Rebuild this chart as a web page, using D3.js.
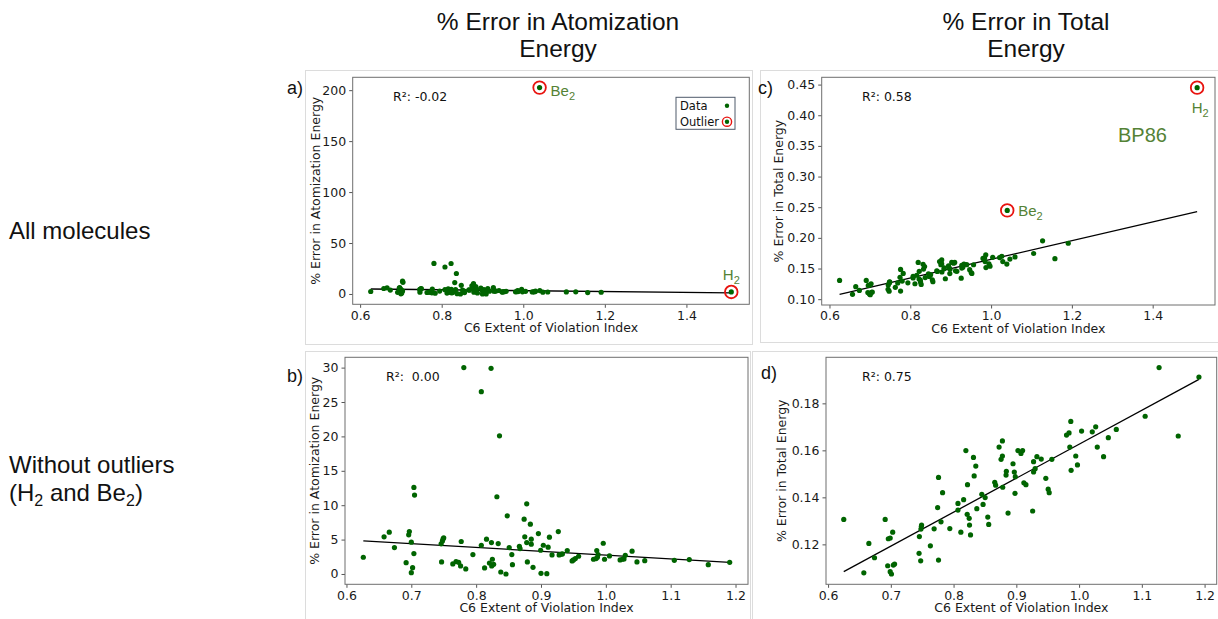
<!DOCTYPE html>
<html>
<head>
<meta charset="utf-8">
<script src="https://cdn.jsdelivr.net/npm/d3@7"></script>
<style>
  body { margin: 0; background: #fff; }
  svg text { font-family: "DejaVu Sans", sans-serif; }
  svg text.ppt { font-family: "Liberation Sans", Arial, sans-serif; }
</style>
</head>
<body>
<svg id="fig" width="1218" height="619"></svg>
<script>
// Atomization energy error vs C6 violation index (no outliers)
const atomX = [0.626, 0.658, 0.666, 0.674, 0.692, 0.696, 0.697, 0.700, 0.700, 0.702, 0.704, 0.704, 0.705,
  0.746, 0.7467, 0.748, 0.749, 0.750, 0.764, 0.769, 0.773, 0.776, 0.777, 0.781, 0.784, 0.795,
  0.808, 0.808, 0.813, 0.816, 0.8205, 0.823, 0.8236, 0.824, 0.825, 0.827, 0.832, 0.834, 0.836, 0.838,
  0.846, 0.848, 0.851, 0.855, 0.856, 0.8667, 0.8677, 0.874, 0.875, 0.878, 0.878, 0.879, 0.8836, 0.885, 0.885, 0.8877,
  0.896, 0.8995, 0.900, 0.9036, 0.909, 0.911, 0.913, 0.917, 0.9267, 0.928, 0.931, 0.933, 0.9405,
  0.948, 0.950, 0.953, 0.958, 0.981, 0.985, 0.986, 0.987, 0.988, 0.996, 0.998, 1.0056,
  1.022, 1.0256, 1.028, 1.030, 1.0405, 1.048, 1.060, 1.1056, 1.1287, 1.158, 1.191];
const atomErr = [2.43, 5.40, 6.08, 3.84, 1.65, 5.69, 6.17, 4.62, 0.19, 0.92, 2.97, 12.59, 11.47,
  4.38, 1.75, 4.81, 5.10, 5.25, 1.46, 1.80, 1.70, 1.17, 4.72, 30.0, 0.73, 2.82,
  4.18, 26.5, 0.88, 5.06, 1.60, 29.9, 4.57, 1.17, 2.14, 1.41, 11.23, 4.42, 20.08, 0.29,
  0.0, 8.46, 3.84, 2.82, 1.36, 4.03, 3.69, 7.97, 5.40, 10.2, 4.57, 1.75, 7.24, 5.06, 4.33, 0.97,
  5.88, 3.45, 0.10, 4.18, 0.05, 3.89, 5.35, 2.77, 6.17, 2.77, 2.87, 2.92, 3.40,
  1.90, 2.04, 2.24, 2.58, 2.14, 2.24, 3.40, 2.43, 2.82, 4.47, 2.14, 2.63,
  2.04, 2.14, 2.19, 2.72, 3.31, 1.75, 1.94, 1.99, 2.09, 1.36, 1.70];

// Total energy error vs C6 violation index (no outliers)
const totalX = [0.625, 0.657, 0.665, 0.674, 0.691, 0.695, 0.696, 0.699, 0.699, 0.701, 0.703, 0.704, 0.706,
  0.745, 0.7455, 0.7476, 0.748, 0.7487, 0.749, 0.763, 0.769, 0.7746, 0.776, 0.776, 0.780, 0.7825, 0.794,
  0.807, 0.807, 0.8116, 0.816, 0.8196, 0.8217, 0.8222, 0.8249, 0.8254, 0.827, 0.8317, 0.8328, 0.8354, 0.837,
  0.845, 0.847, 0.8503, 0.8545, 0.856, 0.8656, 0.867, 0.8725, 0.8757, 0.8778, 0.8778, 0.8783, 0.8836, 0.8841, 0.8868,
  0.8947, 0.8968, 0.8979, 0.8984, 0.9026, 0.9074, 0.910, 0.912, 0.9153, 0.926, 0.9275, 0.9275, 0.930, 0.9328, 0.9397,
  0.947, 0.9508, 0.9524, 0.9566, 0.980, 0.984, 0.9868, 0.9852, 0.9873, 0.9947, 0.9974, 1.004,
  1.021, 1.0265, 1.029, 1.039, 1.0466, 1.0593, 1.1053, 1.1275, 1.158, 1.191];
const totalErr = [0.1306, 0.1079, 0.1204, 0.1143, 0.1306, 0.1109, 0.1224, 0.1227, 0.1084, 0.1074, 0.1252, 0.1112, 0.1116,
  0.1162, 0.1233, 0.1130, 0.1265, 0.1277, 0.1282, 0.1194, 0.1266, 0.1356, 0.1485, 0.1133, 0.1296, 0.1420, 0.1267,
  0.1346, 0.1374, 0.1252, 0.1390, 0.1599, 0.1328, 0.1454, 0.1311, 0.1282, 0.1240, 0.1570, 0.1491, 0.1533, 0.1352,
  0.1413, 0.1370, 0.1399, 0.1316, 0.1285, 0.1464, 0.1452, 0.1614, 0.1562, 0.1640, 0.1576, 0.1443, 0.1495, 0.1511, 0.1333,
  0.1543, 0.1508, 0.1417, 0.1488, 0.1599, 0.1587, 0.1599, 0.1462, 0.1454, 0.1342, 0.1552, 0.1508, 0.1522, 0.1573, 0.1563,
  0.1481, 0.1435, 0.1420, 0.1562, 0.1665, 0.1674, 0.1723, 0.1614, 0.1515, 0.1576, 0.1538, 0.1682,
  0.1679, 0.1700, 0.1614, 0.1573, 0.1654, 0.1689, 0.1745, 0.1952, 0.1661, 0.1912];

// Outliers
const outlierNames = ["H", "Be"];          // both shown with subscript 2
const outlierX = [1.51, 1.04];
const outlierAtomErr = [2.0, 202.5];
const outlierTotalErr = [0.445, 0.2448];

// Linear fits [intercept, slope]
const fitAtomAll = [7.66, -4.41];
const fitAtomClean = [8.25, -5.5];
const fitTotalAll = [0.0121, 0.1529];
const fitTotalClean = [0.0181, 0.1445];

// Ticks
const xTicksAll = [0.6, 0.8, 1.0, 1.2, 1.4];
const xTicksClean = [0.6, 0.7, 0.8, 0.9, 1.0, 1.1, 1.2];
const yTicksA = [0, 50, 100, 150, 200];
const yTicksB = [0, 5, 10, 15, 20, 25, 30];
const yTicksC = [0.10, 0.15, 0.20, 0.25, 0.30, 0.35, 0.40, 0.45];
const yTicksD = [0.12, 0.14, 0.16, 0.18];

const r2Labels = ["R²: -0.02", "R²:  0.00", "R²: 0.58", "R²: 0.75"];

const svg = d3.select("#fig");
const GREEN = "#006400";
const OLIVE = "#548235";

// Column titles and row labels
const titles = [
  { lines: ["% Error in Atomization", "Energy"], x: 558 },
  { lines: ["% Error in Total", "Energy"], x: 1026 }
];
titles.forEach(t => {
  t.lines.forEach((s, i) => {
    svg.append("text").attr("class", "ppt")
      .attr("x", t.x).attr("y", 30 + i * 26.5)
      .attr("text-anchor", "middle").attr("font-size", 24.5).attr("fill", "#111")
      .text(s);
  });
});

svg.append("text").attr("class", "ppt").attr("x", 9).attr("y", 239)
  .attr("font-size", 24).attr("fill", "#111").text("All molecules");
svg.append("text").attr("class", "ppt").attr("x", 9).attr("y", 473)
  .attr("font-size", 24).attr("fill", "#111").text("Without outliers");
const sub = svg.append("text").attr("class", "ppt").attr("x", 9).attr("y", 501)
  .attr("font-size", 24).attr("fill", "#111");
sub.append("tspan").text("(H");
sub.append("tspan").attr("dy", 5).attr("font-size", 16).text("2");
sub.append("tspan").attr("dy", -5).text(" and Be");
sub.append("tspan").attr("dy", 5).attr("font-size", 16).text("2");
sub.append("tspan").attr("dy", -5).text(")");

// helper: text with subscript 2
function subLabel(g, name, x, y, anchor) {
  const t = g.append("text").attr("class", "ppt")
    .attr("x", x).attr("y", y).attr("font-size", 15)
    .attr("fill", OLIVE).attr("text-anchor", anchor);
  t.append("tspan").text(name);
  t.append("tspan").attr("dy", 4).attr("font-size", 11).text("2");
  return t;
}

function pad(ext) {
  const m = (ext[1] - ext[0]) * 0.05;
  return [ext[0] - m, ext[1] + m];
}

const panels = [
  { tag: "a)", tagPos: [287, 94], box: [305, 70, 752, 344], frame: [352.7, 77.3, 749.3, 304.3],
    xs: atomX, ys: atomErr, oy: outlierAtomErr, fit: fitAtomAll,
    xTicks: xTicksAll, xFmt: ".1f", yTicks: yTicksA, yFmt: "d",
    yLabel: "% Error in Atomization Energy", yLabOff: 33, r2: r2Labels[0], r2Pos: [393, 101],
    outLabel: [{ dx: 0, dy: -12, anchor: "middle" }, { dx: 11, dy: 8, anchor: "start" }], legend: true },
  { tag: "b)", tagPos: [287, 382], box: [305, 351, 750, 630], frame: [345, 357.3, 748, 584.3],
    xs: atomX, ys: atomErr, oy: null, fit: fitAtomClean,
    xTicks: xTicksClean, xFmt: ".1f", yTicks: yTicksB, yFmt: "d",
    yLabel: "% Error in Atomization Energy", yLabOff: 26, r2: r2Labels[1], r2Pos: [386, 381] },
  { tag: "c)", tagPos: [758, 94], box: [760, 70, 1230, 342], frame: [821.7, 77.3, 1215, 305],
    xs: totalX, ys: totalErr, oy: outlierTotalErr, fit: fitTotalAll,
    xTicks: xTicksAll, xFmt: ".1f", yTicks: yTicksC, yFmt: ".2f",
    yLabel: "% Error in Total Energy", yLabOff: 39, r2: r2Labels[2], r2Pos: [862, 101],
    outLabel: [{ dx: 3, dy: 25, anchor: "middle" }, { dx: 11, dy: 6, anchor: "start" }], bp86: true },
  { tag: "d)", tagPos: [761, 379], box: [752, 351, 1230, 630], frame: [826, 357.3, 1216.7, 584.3],
    xs: totalX, ys: totalErr, oy: null, fit: fitTotalClean,
    xTicks: xTicksClean, xFmt: ".1f", yTicks: yTicksD, yFmt: ".2f",
    yLabel: "% Error in Total Energy", yLabOff: 40, r2: r2Labels[3], r2Pos: [862, 381] }
];

panels.forEach(p => {
  const g = svg.append("g");
  const [bx0, by0, bx1, by1] = p.box;
  g.append("rect").attr("x", bx0 + 0.5).attr("y", by0 + 0.5)
    .attr("width", bx1 - bx0).attr("height", by1 - by0)
    .attr("fill", "none").attr("stroke", "#dcdcdc");

  const [fx0, fy0, fx1, fy1] = p.frame;
  const allX = p.oy ? p.xs.concat(outlierX) : p.xs;
  const allY = p.oy ? p.ys.concat(p.oy) : p.ys;

  const x = d3.scaleLinear().domain(pad(d3.extent(allX))).range([fx0, fx1]);
  const y = d3.scaleLinear().domain(pad(d3.extent(allY))).range([fy1, fy0]);

  // axes
  const xAxis = d3.axisBottom(x).tickValues(p.xTicks).tickFormat(d3.format(p.xFmt))
    .tickSizeInner(3.5).tickSizeOuter(0).tickPadding(3);
  const yAxis = d3.axisLeft(y).tickValues(p.yTicks).tickFormat(d3.format(p.yFmt))
    .tickSizeInner(3.5).tickSizeOuter(0).tickPadding(3);
  [g.append("g").attr("transform", `translate(0,${fy1})`).call(xAxis),
   g.append("g").attr("transform", `translate(${fx0},0)`).call(yAxis)].forEach(ax => {
    ax.select(".domain").remove();
    ax.selectAll(".tick line").attr("stroke", "#555");
    ax.selectAll(".tick text").attr("font-size", 12.5).attr("fill", "#1a1a1a")
      .attr("font-family", "DejaVu Sans");
  });

  g.append("rect").attr("x", fx0).attr("y", fy0)
    .attr("width", fx1 - fx0).attr("height", fy1 - fy0)
    .attr("fill", "none").attr("stroke", "#6e6e6e").attr("stroke-width", 1);

  // axis labels
  g.append("text").attr("x", (fx0 + fx1) / 2).attr("y", fy1 + 27.5)
    .attr("text-anchor", "middle").attr("font-size", 12.5).attr("fill", "#1a1a1a")
    .text("C6 Extent of Violation Index");
  g.append("text")
    .attr("transform", `translate(${fx0 - p.yLabOff},${(fy0 + fy1) / 2}) rotate(-90)`)
    .attr("text-anchor", "middle").attr("font-size", 12.5).attr("fill", "#1a1a1a")
    .text(p.yLabel);

  // fit line across data range
  const xr = d3.extent(allX);
  g.append("path")
    .datum(xr.map(v => [v, p.fit[0] + p.fit[1] * v]))
    .attr("d", d3.line().x(d => x(d[0])).y(d => y(d[1])))
    .attr("fill", "none").attr("stroke", "#000").attr("stroke-width", 1.3);

  // points
  g.append("g").selectAll("circle")
    .data(d3.zip(allX, allY))
    .join("circle")
    .attr("cx", d => x(d[0])).attr("cy", d => y(d[1]))
    .attr("r", 2.6).attr("fill", GREEN);

  // outlier rings and labels
  if (p.oy) {
    outlierX.forEach((ox, i) => {
      const cx = x(ox), cy = y(p.oy[i]);
      g.append("circle").attr("cx", cx).attr("cy", cy).attr("r", 6.3)
        .attr("fill", "none").attr("stroke", "#e8130f").attr("stroke-width", 1.8);
      const l = p.outLabel[i];
      subLabel(g, outlierNames[i], cx + l.dx, cy + l.dy, l.anchor);
    });
  }

  // R² annotation
  g.append("text").attr("x", p.r2Pos[0]).attr("y", p.r2Pos[1])
    .attr("font-size", 12.5).attr("fill", "#111")
    .style("white-space", "pre").attr("xml:space", "preserve")
    .text(p.r2);

  // panel tag
  g.append("text").attr("class", "ppt").attr("x", p.tagPos[0]).attr("y", p.tagPos[1])
    .attr("font-size", 18).attr("fill", "#111").text(p.tag);

  if (p.legend) {
    const lg = g.append("g");
    lg.append("rect").attr("x", 676).attr("y", 97.3).attr("width", 59).attr("height", 32)
      .attr("fill", "#fff").attr("stroke", "#4f5b6b").attr("stroke-width", 1);
    lg.append("text").attr("x", 680).attr("y", 109.7).attr("font-size", 11.5).attr("fill", "#111").text("Data");
    lg.append("text").attr("x", 680).attr("y", 125.7).attr("font-size", 11.5).attr("fill", "#111").text("Outlier");
    lg.append("circle").attr("cx", 727).attr("cy", 105.7).attr("r", 2.2).attr("fill", GREEN);
    lg.append("circle").attr("cx", 727).attr("cy", 121.7).attr("r", 2.2).attr("fill", GREEN);
    lg.append("circle").attr("cx", 727).attr("cy", 121.7).attr("r", 4.6)
      .attr("fill", "none").attr("stroke", "#e8130f").attr("stroke-width", 1.4);
  }

  if (p.bp86) {
    g.append("text").attr("class", "ppt").attr("x", 1118).attr("y", 142)
      .attr("font-size", 20).attr("fill", OLIVE).text("BP86");
  }
});
</script>
</body>
</html>
